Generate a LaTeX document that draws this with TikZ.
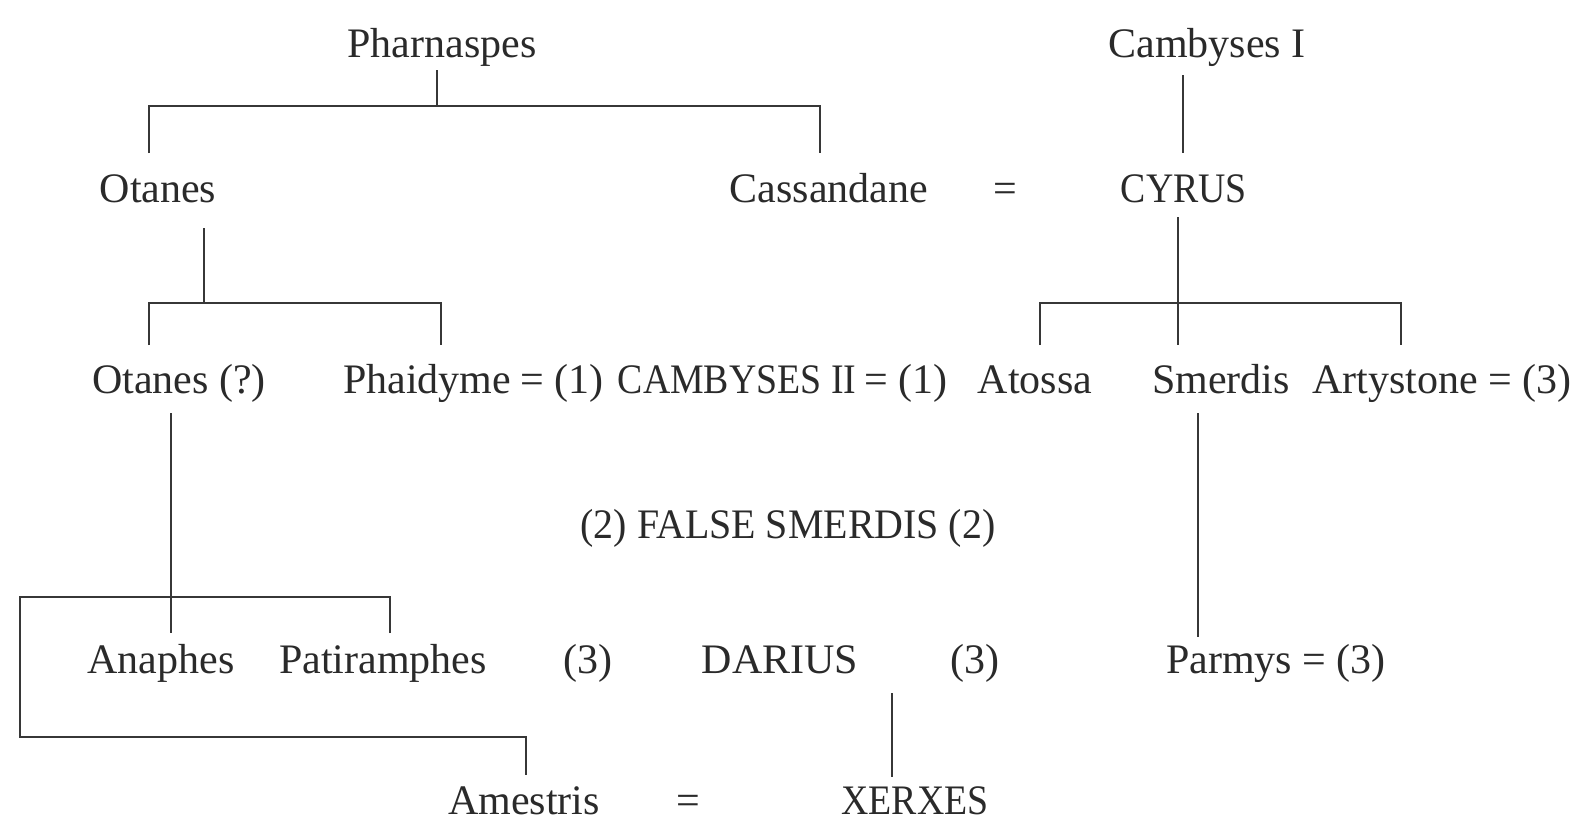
\documentclass[tikz,border=0pt]{standalone}
\usepackage{fontspec}
\setmainfont{Liberation Serif}
% capitals of the royal names are set a little narrower
\newfontfamily\royalfont[FakeStretch=0.9]{Liberation Serif}
\newfontfamily\pretenderfont[FakeStretch=0.95]{Liberation Serif}
\definecolor{ink}{RGB}{42,42,42}
\definecolor{rule}{RGB}{55,55,55}
\begin{document}
\begin{tikzpicture}[x=1pt,y=-1pt,
  person/.style={anchor=base,inner sep=0pt,text=ink,font=\fontsize{42}{50}\selectfont},
  royal/.style={person,font=\fontsize{42}{50}\royalfont},
  kin/.style={draw=rule,line width=2.3pt,line cap=butt,line join=miter}]
\useasboundingbox[fill=white] (0,0) rectangle (1580,822);

% generation 1
\node[person] (phar)  at (442,57) {Pharnaspes};
\node[person] (camb1) at (1207,57) {Cambyses I};

% generation 2
\node[person] (otanes) at (158,202) {Otanes};
\node[person] (cass)   at (829,202) {Cassandane};
\node[person] (eqA)    at (1005,202) {=};
\node[royal]  (cyrus)  at (1184,202) {CYRUS};

% generation 3
\node[person] (otanesq) at (179,393) {Otanes (?)};
\node[person] (phaid)   at (427,393) {Phaidyme};
\node[person] (mA)      at (562,393) {= (1)};
\node[royal]  (camb2)   at (737,393) {CAMBYSES II};
\node[person] (mB)      at (906,393) {= (1)};
\node[person] (atossa)  at (1035,393) {Atossa};
\node[person] (smerdis) at (1221,393) {Smerdis};
\node[person] (arty)    at (1442,393) {Artystone = (3)};

\node[person,font=\fontsize{42}{50}\pretenderfont] (false) at (788,538) {(2) FALSE SMERDIS (2)};

% generation 4
\node[person] (anaphes) at (161,673) {Anaphes};
\node[person] (patir)   at (383,673) {Patiramphes};
\node[person] (mC)      at (588,673) {(3)};
\node[person] (darius)  at (780,673) {DARIUS};
\node[person] (mD)      at (975,673) {(3)};
\node[person] (parmys)  at (1276,673) {Parmys = (3)};

% generation 5
\node[person] (amestris) at (524,814) {Amestris};
\node[person] (eqB)      at (688,814) {=};
\node[royal]  (xerxes)   at (915,814) {XERXES};

% line ends and junctions
\coordinate (pharS)   at (437,70);
\coordinate (pharJ)   at (437,106);
\coordinate (otanesN) at (149,153);
\coordinate (cassN)   at (820,153);
\coordinate (camb1S)  at (1183,75);
\coordinate (cyrusN)  at (1183,153);
\coordinate (otanesS) at (204,228);
\coordinate (otanesJ) at (204,303);
\coordinate (otanesqN) at (149,345);
\coordinate (phaidN)  at (441,345);
\coordinate (cyrusS)  at (1178,217);
\coordinate (smerdisN) at (1178,345);
\coordinate (atossaN) at (1040,345);
\coordinate (artyN)   at (1401,345);
\coordinate (otanesqS) at (171,413);
\coordinate (anaphesN) at (171,633);
\coordinate (patirN)  at (390,633);
\coordinate (famJ)    at (20,597);
\coordinate (famL)    at (20,737);
\coordinate (amestrisN) at (526,775);
\coordinate (smerdisS) at (1198,413);
\coordinate (parmysN) at (1198,637);
\coordinate (dariusS) at (892,693);
\coordinate (xerxesN) at (892,777);

% Pharnaspes' children
\draw[kin] (pharS) -- (pharJ);
\draw[kin] (otanesN) -- (otanesN |- pharJ) -- (cassN |- pharJ) -- (cassN);
% Cambyses I to Cyrus
\draw[kin] (camb1S) -- (cyrusN);
% Otanes' children
\draw[kin] (otanesS) -- (otanesJ);
\draw[kin] (otanesqN) -- (otanesqN |- otanesJ) -- (phaidN |- otanesJ) -- (phaidN);
% Cyrus' children
\draw[kin] (cyrusS) -- (smerdisN);
\draw[kin] (atossaN) -- (atossaN |- otanesJ) -- (artyN |- otanesJ) -- (artyN);
% Otanes (?) and his children
\draw[kin] (otanesqS) -- (anaphesN);
\draw[kin] (patirN) -- (patirN |- famJ) -- (famJ) -- (famL) -- (amestrisN |- famL) -- (amestrisN);
% Smerdis to Parmys
\draw[kin] (smerdisS) -- (parmysN);
% Darius to Xerxes
\draw[kin] (dariusS) -- (xerxesN);
\end{tikzpicture}
\end{document}
